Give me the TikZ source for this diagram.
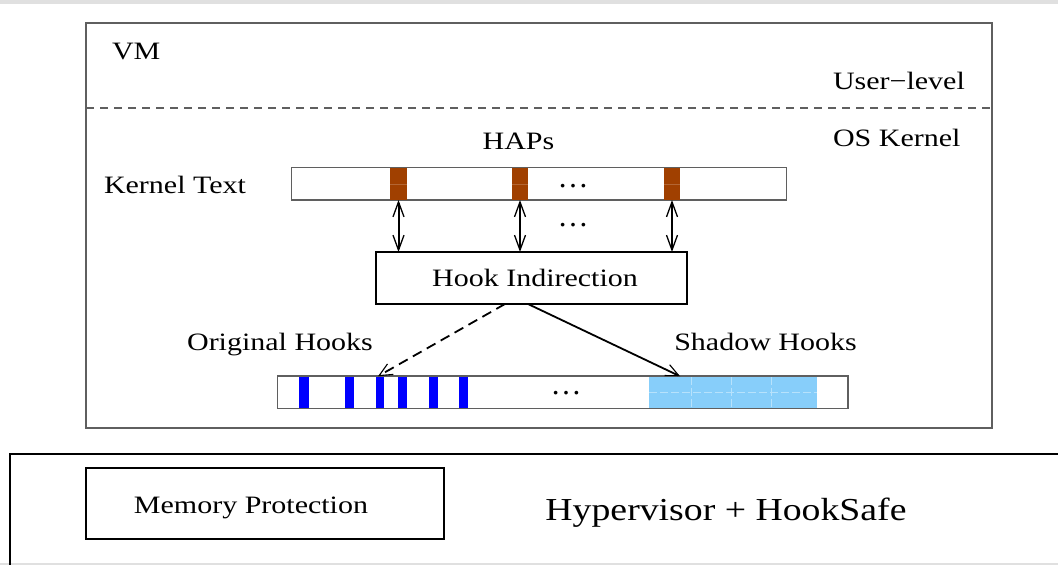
\documentclass[tikz,border=0pt]{standalone}
\usepackage{fontspec}
\setmainfont{Liberation Serif}
\usepackage{graphicx}
\usetikzlibrary{arrows.meta,calc}
\definecolor{hapbrown}{RGB}{160,64,0}
\definecolor{shadowblue}{RGB}{135,206,250}
\definecolor{bandgray}{RGB}{224,224,224}
\definecolor{boxgray}{RGB}{95,95,95}
\newcommand{\wlbl}[1]{\scalebox{1.2}[1]{#1}}
\begin{document}
\begin{tikzpicture}[x=1pt,y=-1pt,
  lbl/.style={inner sep=0pt, outer sep=0pt, font=\fontsize{25}{30}\selectfont},
  biglbl/.style={inner sep=0pt, outer sep=0pt, font=\fontsize{32}{38}\selectfont},
  rbox/.style={inner sep=0pt, outer sep=0pt},
  graybox/.style={rbox, draw=boxgray, line width=1.5pt},
  blackbox/.style={rbox, draw=black, line width=2pt},
  hapblock/.style={rbox, fill=hapbrown},
  hookbar/.style={rbox, fill=blue},
  dotsnode/.style={inner sep=0pt, anchor=base, font=\fontsize{31}{36}\selectfont},
  dblarrow/.style={line width=2pt, {Straight Barb[length=15pt,width=11pt,line width=1.3pt]}-{Straight Barb[length=15pt,width=11pt,line width=1.3pt]}},
  onearrow/.style={line width=1.8pt, -{Straight Barb[length=13pt,width=12pt,line width=1.1pt]}}
]
\useasboundingbox (0,0) rectangle (1058,565);
\clip (0,0) rectangle (1058,565);
\fill[white] (0,0) rectangle (1058,565);
\fill[bandgray] (0,0) rectangle (1058,4);
\fill[bandgray] (0,563) rectangle (1058,565);

% VM box
\node[graybox, minimum width=906pt, minimum height=405pt] (vm) at (539,225.5) {};
\node[lbl, anchor=base west] (vmlbl) at (112,59) {\wlbl{VM}};
\node[lbl, anchor=base west] (user) at (833,89) {\wlbl{User−level}};
\coordinate (dl) at (86,108);
\coordinate (dr) at (992,108);
\draw[boxgray, line width=1.5pt, dash pattern=on 8pt off 6pt] (dl) -- (dr);
\node[lbl, anchor=base west] (oskernel) at (833,146) {\wlbl{OS Kernel}};
\node[lbl, anchor=base] (haps) at (518.5,149) {\wlbl{HAPs}};
\node[lbl, anchor=base] (ktextlbl) at (175,193) {\wlbl{Kernel Text}};

% kernel text bar
\node[graybox, minimum width=495pt, minimum height=32.5pt] (ktext) at (539,183.75) {};
\node[hapblock, minimum width=17pt, minimum height=32pt] (hap1) at (398.5,184) {};
\node[hapblock, minimum width=16pt, minimum height=32pt] (hap2) at (520,184) {};
\node[hapblock, minimum width=16pt, minimum height=32pt] (hap3) at (672,184) {};
\draw[hapbrown!80!white, line width=0.6pt] (hap1.west) -- (hap1.east);
\draw[hapbrown!80!white, line width=0.6pt] (hap2.west) -- (hap2.east);
\draw[hapbrown!80!white, line width=0.6pt] (hap3.west) -- (hap3.east);
\node[dotsnode] (dots1) at (573,187) {…};
\node[dotsnode] (dots2) at (573,226) {…};

% hook indirection
\node[blackbox, minimum width=311pt, minimum height=52pt] (hook) at (531.5,278) {};
\node[lbl, anchor=base] (hooklbl) at (535,286) {\wlbl{Hook Indirection}};

\draw[dblarrow] (hap1.south) -- (hap1.south |- hook.north);
\draw[dblarrow] (hap2.south) -- (hap2.south |- hook.north);
\draw[dblarrow] (hap3.south) -- (hap3.south |- hook.north);

% hooks bar
\node[lbl, anchor=base] (origlbl) at (280,350) {\wlbl{Original Hooks}};
\node[lbl, anchor=base] (shadowlbl) at (765.5,350) {\wlbl{Shadow Hooks}};
\node[rbox, fill=shadowblue, minimum width=168pt, minimum height=32pt] (shadow) at (733,392.25) {};
\draw[white!40!shadowblue, line width=0.6pt, dash pattern=on 8pt off 3pt] (691,376.5) -- (691,408);
\draw[white!40!shadowblue, line width=0.6pt, dash pattern=on 8pt off 3pt] (731,376.5) -- (731,408);
\draw[white!40!shadowblue, line width=0.6pt, dash pattern=on 8pt off 3pt] (771,376.5) -- (771,408);
\draw[white!40!shadowblue, line width=0.6pt, dash pattern=on 8pt off 3pt] (shadow.west) -- (shadow.east);
\node[hookbar, minimum width=9.5pt, minimum height=32pt] (oh1) at (303.75,392.25) {};
\node[hookbar, minimum width=9pt, minimum height=32pt] (oh2) at (349.5,392.25) {};
\node[hookbar, minimum width=8pt, minimum height=32pt] (oh3) at (380,392.25) {};
\node[hookbar, minimum width=9pt, minimum height=32pt] (oh4) at (402.5,392.25) {};
\node[hookbar, minimum width=9pt, minimum height=32pt] (oh5) at (433,392.25) {};
\node[hookbar, minimum width=9pt, minimum height=32pt] (oh6) at (463.5,392.25) {};
\node[graybox, minimum width=570.5pt, minimum height=32.5pt] (hooks) at (562.75,392.25) {};
\node[dotsnode] (dots3) at (566,394) {…};

\draw[onearrow, dash pattern=on 10pt off 6pt] ($(hook.south west)+(129,0)$) -- ($(oh3.north)+(-2,0)$);
\draw[onearrow] ($(hook.south west)+(152,0)$) -- ($(shadow.north west)+(31,0)$);

% hypervisor
\node[blackbox, minimum width=1060pt, minimum height=126pt] (hyp) at (540,517) {};
\node[blackbox, minimum width=358pt, minimum height=71pt] (mem) at (265,503.5) {};
\node[lbl, anchor=base] (memlbl) at (251,513) {\wlbl{Memory Protection}};
\node[biglbl, anchor=base] (hyplbl) at (726,520) {\scalebox{1.18}[1]{Hypervisor + HookSafe}};
\end{tikzpicture}
\end{document}
